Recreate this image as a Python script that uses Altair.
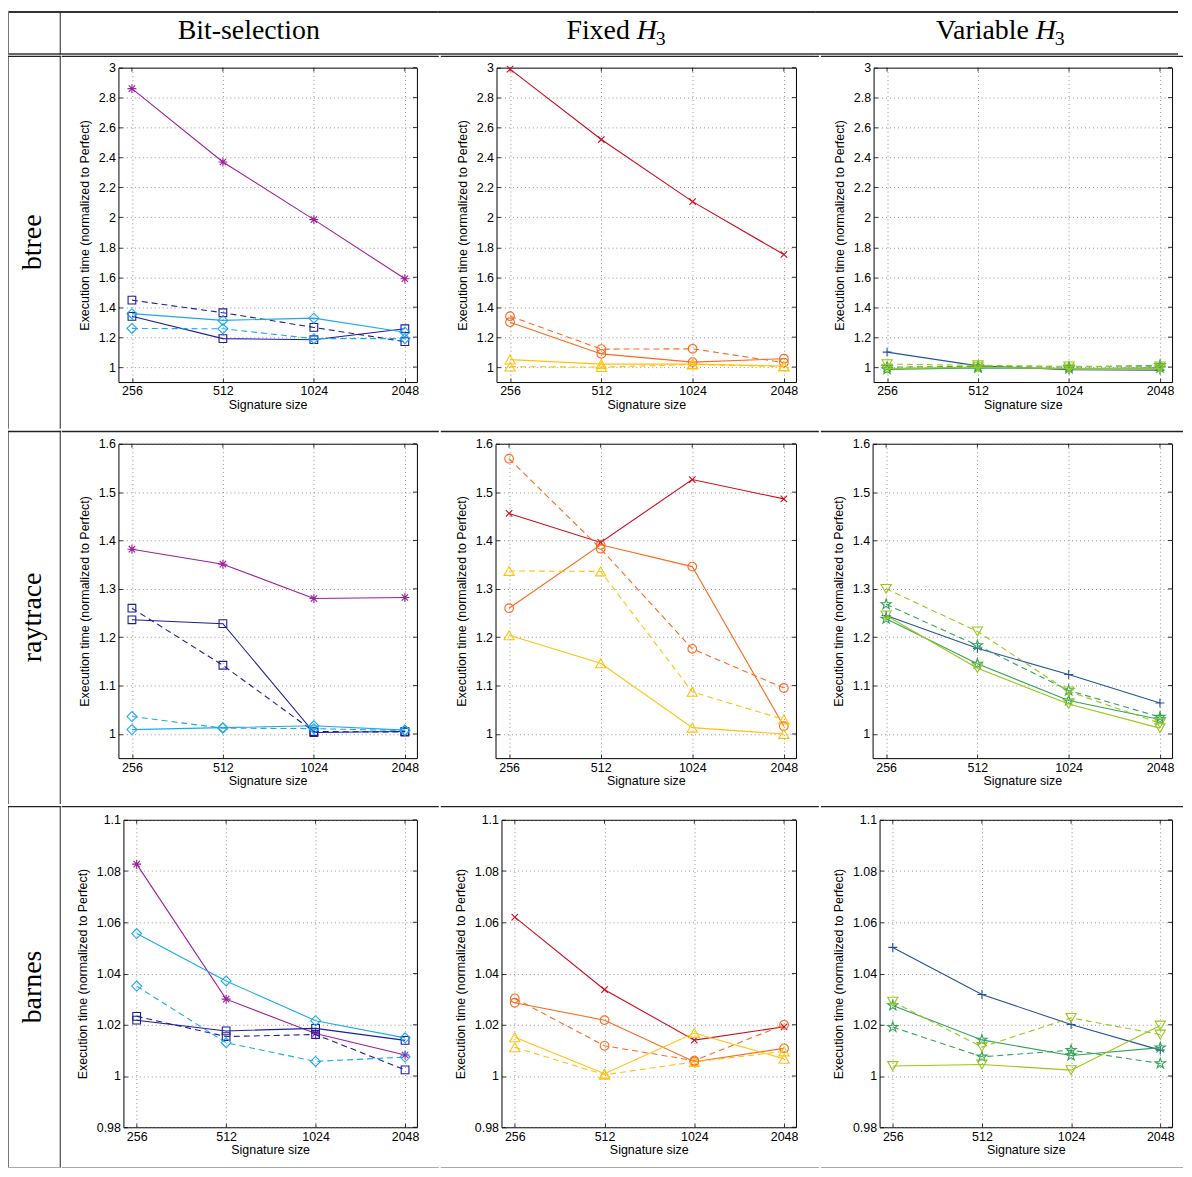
import altair as alt
import pandas as pd

# ---------------- data ----------------
SIZES = [256, 512, 1024, 2048]
ROW_NAMES = ["btree", "raytrace", "barnes"]
HEADER_MAIN = ["Bit-selection", "Fixed", "Variable"]
HEADER_MATH = ["", "H", "H"]
HEADER_SUB = ["", "3", "3"]
X_TITLE = "Signature size"
Y_TITLE = "Execution time (normalized to Perfect)"

BITSEL_SERIES = ["magenta *", "blue square", "blue square dashed", "cyan diamond", "cyan diamond dashed"]
FIXED_SERIES = ["red x", "orange circle", "orange circle dashed", "yellow triangle", "yellow triangle dashed"]
VARIABLE_SERIES = ["blue +", "green star", "green star dashed", "lime triangle", "lime triangle dashed"]

BTREE_BITSEL = [
    [2.86, 2.37, 1.985, 1.59],
    [1.339, 1.19, 1.183, 1.256],
    [1.447, 1.363, 1.265, 1.17],
    [1.357, 1.312, 1.327, 1.233],
    [1.258, 1.256, 1.19, 1.19],
]
BTREE_FIXED = [
    [2.99, 2.52, 2.105, 1.752],
    [1.30, 1.088, 1.033, 1.056],
    [1.34, 1.12, 1.122, 1.03],
    [1.05, 1.02, 1.02, 1.007],
    [1.003, 1.0, 1.017, 1.003],
]
BTREE_VARIABLE = [
    [1.10, 1.008, 0.982, 0.98],
    [0.985, 0.995, 0.99, 0.995],
    [1.0, 1.005, 1.0, 1.012],
    [0.99, 1.0, 0.99, 0.99],
    [1.02, 1.012, 1.005, 1.005],
]
RAYTRACE_BITSEL = [
    [1.382, 1.351, 1.280, 1.282],
    [1.236, 1.228, 1.003, 1.005],
    [1.260, 1.142, 1.005, 1.004],
    [1.009, 1.013, 1.017, 1.008],
    [1.036, 1.012, 1.011, 1.007],
]
RAYTRACE_FIXED = [
    [1.456, 1.396, 1.526, 1.486],
    [1.260, 1.391, 1.346, 1.016],
    [1.569, 1.383, 1.176, 1.095],
    [1.204, 1.146, 1.013, 1.0],
    [1.337, 1.336, 1.087, 1.030],
]
RAYTRACE_VARIABLE = [
    [1.245, 1.177, 1.123, 1.064],
    [1.238, 1.145, 1.069, 1.030],
    [1.268, 1.183, 1.09, 1.035],
    [1.245, 1.136, 1.062, 1.012],
    [1.30, 1.212, 1.088, 1.022],
]
BARNES_BITSEL = [
    [1.0827, 1.0300, 1.0166, 1.0082],
    [1.0218, 1.0176, 1.0186, 1.0139],
    [1.0233, 1.0154, 1.0162, 1.0024],
    [1.0556, 1.0371, 1.0216, 1.0149],
    [1.0351, 1.0130, 1.0057, 1.0074],
]
BARNES_FIXED = [
    [1.0620, 1.0337, 1.0140, 1.0192],
    [1.0286, 1.0218, 1.0056, 1.0108],
    [1.0303, 1.0118, 1.0060, 1.0200],
    [1.0151, 1.0009, 1.0168, 1.0067],
    [1.0112, 1.0005, 1.0055, 1.0096],
]
BARNES_VARIABLE = [
    [1.0502, 1.0318, 1.0201, 1.0101],
    [1.0275, 1.0141, 1.0080, 1.0111],
    [1.0191, 1.0075, 1.0101, 1.0049],
    [1.0039, 1.0045, 1.0023, 1.0197],
    [1.0290, 1.0113, 1.0227, 1.0162],
]

PANEL_VALUES = [
    [BTREE_BITSEL, BTREE_FIXED, BTREE_VARIABLE],
    [RAYTRACE_BITSEL, RAYTRACE_FIXED, RAYTRACE_VARIABLE],
    [BARNES_BITSEL, BARNES_FIXED, BARNES_VARIABLE],
]
COLUMN_SERIES = [BITSEL_SERIES, FIXED_SERIES, VARIABLE_SERIES]

Y_DOMAINS = [[0.9, 3.0], [0.95, 1.6], [0.98, 1.1]]
Y_TICKS = [
    [1.0, 1.2, 1.4, 1.6, 1.8, 2.0, 2.2, 2.4, 2.6, 2.8, 3.0],
    [1.0, 1.1, 1.2, 1.3, 1.4, 1.5, 1.6],
    [0.98, 1.0, 1.02, 1.04, 1.06, 1.08, 1.1],
]
X_DOMAIN = [231, 2245]

# ---------------- styles ----------------
ASTERISK = "M0,-1L0,1M-1,0L1,0M-0.71,-0.71L0.71,0.71M-0.71,0.71L0.71,-0.71"
XMARK = "M-1,-1L1,1M-1,1L1,-1"
PLUS = "M0,-1L0,1M-1,0L1,0"
STAR = ("M0,-1L0.2245,-0.309L0.951,-0.309L0.363,0.118L0.588,0.809L0,0.382"
        "L-0.588,0.809L-0.363,0.118L-0.951,-0.309L-0.2245,-0.309Z")

C_MAG, C_NAVY, C_CYAN = "#9E1F9E", "#1E1E9A", "#1BA9F1"
C_RED, C_ORANGE, C_YELLOW = "#CF0A1C", "#FB6A1E", "#FFC20F"
C_STEEL, C_GREEN, C_LIME = "#23549B", "#35A35A", "#9AC71C"

COLUMN_STYLES = [
    # (color, dashed, shape, size)
    [(C_MAG, False, ASTERISK, 81), (C_NAVY, False, "square", 60), (C_NAVY, True, "square", 60),
     (C_CYAN, False, "diamond", 100), (C_CYAN, True, "diamond", 100)],
    [(C_RED, False, XMARK, 42), (C_ORANGE, False, "circle", 76), (C_ORANGE, True, "circle", 76),
     (C_YELLOW, False, "triangle-up", 105), (C_YELLOW, True, "triangle-up", 105)],
    [(C_STEEL, False, PLUS, 81), (C_GREEN, False, STAR, 115), (C_GREEN, True, STAR, 115),
     (C_LIME, False, "triangle-down", 105), (C_LIME, True, "triangle-down", 105)],
]

SANS = "Liberation Sans"
SERIF = "Liberation Serif"
FS = 12.5

# ---------------- table layout (page pixels) ----------------
LABEL_W = 53
HEADER_H = 44
HEAD_BASE = 28
CELL_X = [(61, 440), (440, 820), (820, 1184)]
CELL_Y = [(55, 430), (430, 805), (805, 1169)]
FRAME_X = [
    [(118, 300), (496, 301), (873, 300)],
    [(118, 300), (495, 302), (872, 301)],
    [(123, 295), (501, 296), (879, 294)],
]
FRAME_Y = [(67, 316), (443, 316), (819, 309)]
LINE_DARK = "#222"

DUMMY = pd.DataFrame({"k": [0]})
NOSTROKE = alt.ViewBackground(stroke="transparent", strokeOpacity=0, strokeWidth=0)


def bar(x0, x1, y0, y1, color, opacity=1.0):
    """A filled strip used for the table rules (a rect has exact bounds)."""
    return alt.Chart(DUMMY).mark_rect(color=color, opacity=opacity).encode(
        x=alt.value(x0), x2=alt.value(x1), y=alt.value(y0), y2=alt.value(y1))


def axis_common(title, values, fmt, title_pad):
    return alt.Axis(values=values, format=fmt, title=title, grid=True,
                    gridDash=[1, 3], gridColor="#777", gridWidth=0.8,
                    domain=False, tickSize=4, tickColor="black", tickWidth=0.8,
                    offset=-4, labelPadding=3, titlePadding=title_pad,
                    labelFont=SANS, labelFontSize=FS, titleFont=SANS,
                    titleFontSize=FS, titleFontWeight="normal",
                    labelColor="black", titleColor="black",
                    labelOverlap=False, labelFlush=False)


def panel(r, c):
    fx, fw = FRAME_X[r][c]
    fy, fh = FRAME_Y[r]
    lo, ro = CELL_X[c][0] - fx, CELL_X[c][1] - fx
    to, bo = CELL_Y[r][0] - fy, CELL_Y[r][1] - fy

    x_enc = alt.X("size:Q",
                  scale=alt.Scale(type="log", base=2, domain=X_DOMAIN, nice=False),
                  axis=axis_common(X_TITLE, SIZES, "d", 1))
    y_enc = alt.Y("value:Q",
                  scale=alt.Scale(domain=Y_DOMAINS[r], nice=False, zero=False),
                  axis=axis_common(Y_TITLE, Y_TICKS[r], "~g", 7))

    layers = [bar(lo, ro, to, bo, "white", 0.0),
              bar(lo, ro, to, to + 1.4, LINE_DARK)]
    if r == 2:
        layers.append(bar(lo, ro, bo - 1, bo, "#aaa"))

    xt = pd.DataFrame({"size": SIZES})
    yt = pd.DataFrame({"value": Y_TICKS[r]})
    layers.append(alt.Chart(xt).mark_rule(color="black", strokeWidth=0.8).encode(
        x=x_enc, y=alt.value(0), y2=alt.value(4)))
    layers.append(alt.Chart(yt).mark_rule(color="black", strokeWidth=0.8).encode(
        y=y_enc, x=alt.value(fw - 4), x2=alt.value(fw)))

    for name, vals, (color, dashed, shape, size) in zip(
            COLUMN_SERIES[c], PANEL_VALUES[r][c], COLUMN_STYLES[c]):
        df = pd.DataFrame({"size": SIZES, "value": vals, "series": name})
        line_kw = dict(color=color, strokeWidth=1.1)
        if dashed:
            line_kw["strokeDash"] = [6, 4]
        layers.append(alt.Chart(df).mark_line(**line_kw).encode(x=x_enc, y=y_enc))
        layers.append(alt.Chart(df).mark_point(
            shape=shape, size=size, color=color, filled=False, strokeWidth=1.1,
            opacity=1).encode(x=x_enc, y=y_enc))

    return alt.layer(*layers).properties(
        width=fw, height=fh, view=alt.ViewBackground(stroke="black", strokeWidth=1))


def row_label(r):
    fy, fh = FRAME_Y[r]
    to, bo = CELL_Y[r][0] - fy, CELL_Y[r][1] - fy
    df = pd.DataFrame({"name": [ROW_NAMES[r]]})
    txt = alt.Chart(df).mark_text(angle=270, font=SERIF, fontSize=28, align="center",
                                  baseline="middle", color="black").encode(
        text="name:N", x=alt.value(LABEL_W / 2 - 1), y=alt.value((to + bo) / 2))
    layers = [bar(0, 1, to, bo, "#777"), bar(LABEL_W - 1, LABEL_W, to, bo, LINE_DARK),
              bar(0, LABEL_W, to, to + 1.4, LINE_DARK), txt]
    if r == 2:
        layers.append(bar(0, LABEL_W, bo - 1, bo, "#aaa"))
    return alt.layer(*layers).properties(width=LABEL_W, height=fh, view=NOSTROKE)


def header_cell(c):
    w = CELL_X[c][1] - CELL_X[c][0]
    df = pd.DataFrame({"main": [HEADER_MAIN[c]], "math": [HEADER_MATH[c]],
                       "sub": [HEADER_SUB[c]]})
    base = alt.Chart(df)
    layers = [bar(0, w, 0, 2, "#333"), bar(0, w, HEADER_H - 1.6, HEADER_H, "#333")]
    if HEADER_MATH[c] == "":
        layers.append(base.mark_text(font=SERIF, fontSize=28, align="center",
                                     baseline="alphabetic", color="black").encode(
            text="main:N", x=alt.value(250 - CELL_X[c][0]), y=alt.value(HEAD_BASE)))
    else:
        anchor = {1: 640, 2: 1041}[c] - CELL_X[c][0]
        layers.append(base.mark_text(font=SERIF, fontSize=28, align="right",
                                     baseline="alphabetic", color="black").encode(
            text="main:N", x=alt.value(anchor - 7), y=alt.value(HEAD_BASE)))
        layers.append(base.mark_text(font=SERIF, fontSize=28, fontStyle="italic",
                                     align="left", baseline="alphabetic",
                                     color="black").encode(
            text="math:N", x=alt.value(anchor), y=alt.value(HEAD_BASE)))
        layers.append(base.mark_text(font=SERIF, fontSize=20, align="left",
                                     baseline="alphabetic", color="black").encode(
            text="sub:N", x=alt.value(anchor + 19), y=alt.value(HEAD_BASE + 6)))
    return alt.layer(*layers).properties(width=w, height=HEADER_H, view=NOSTROKE)


corner = alt.layer(
    bar(0, LABEL_W, 0, 2, "#333"),
    bar(0, LABEL_W, HEADER_H - 1.6, HEADER_H, "#333"),
    bar(0, 1, 0, HEADER_H, "#777"),
    bar(LABEL_W - 1, LABEL_W, 0, HEADER_H, LINE_DARK),
).properties(width=LABEL_W, height=HEADER_H, view=NOSTROKE)

header_row = alt.hconcat(corner, *[header_cell(c) for c in range(3)], spacing=0)
rows = [alt.hconcat(row_label(r), *[panel(r, c) for c in range(3)], spacing=0)
        for r in range(3)]

chart = alt.vconcat(header_row, *rows, spacing=0).properties(
    padding=0, background="white")

chart.save("out.html", embed_options={"renderer": "svg", "actions": False})
